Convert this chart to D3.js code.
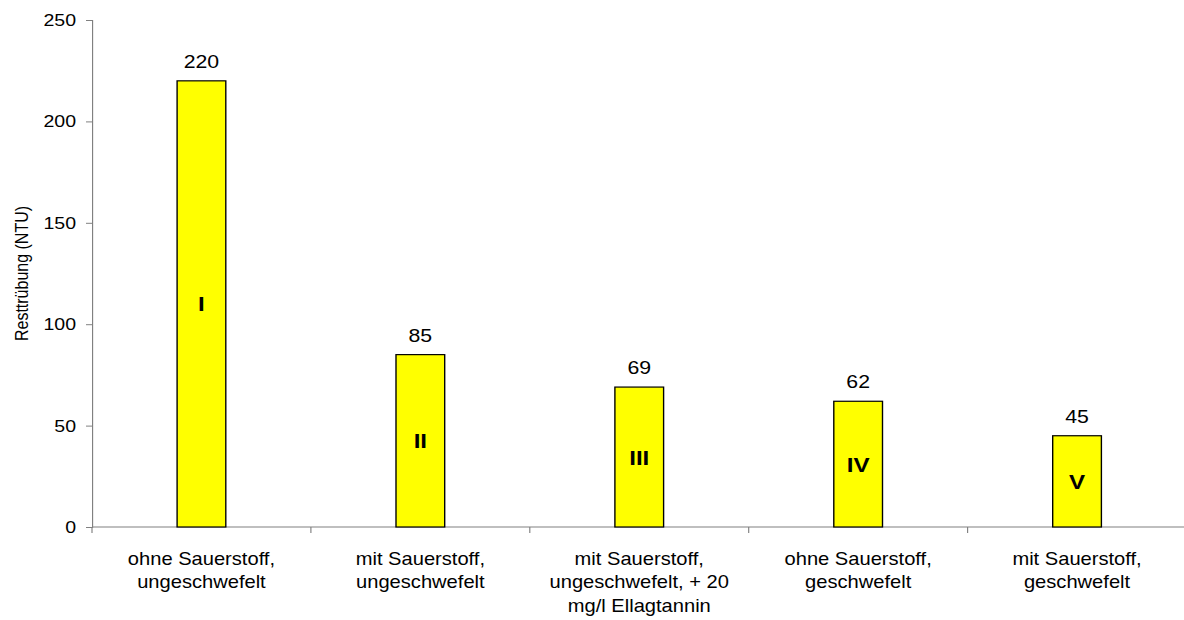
<!DOCTYPE html>
<html>
<head>
<meta charset="utf-8">
<script src="https://cdn.jsdelivr.net/npm/d3@7"></script>
<style>
  html, body { margin: 0; padding: 0; background: #fff; }
  svg { display: block; }
  text { font-family: "Liberation Sans", Arial, sans-serif; fill: #000; }
</style>
</head>
<body>
<svg id="chart" width="1184" height="620"></svg>
<script>
// Residual turbidity per treatment variant
const categories = [
  ["ohne Sauerstoff,", "ungeschwefelt"],
  ["mit Sauerstoff,", "ungeschwefelt"],
  ["mit Sauerstoff,", "ungeschwefelt, + 20", "mg/l Ellagtannin"],
  ["ohne Sauerstoff,", "geschwefelt"],
  ["mit Sauerstoff,", "geschwefelt"]
];
const values = [220, 85, 69, 62, 45];
const numerals = ["I", "II", "III", "IV", "V"];
const yTicks = [0, 50, 100, 150, 200, 250];
const yTitle = "Resttrübung (NTU)";

// The chart is laid out in a narrower frame and widened horizontally
const sx = 1.15;
const svg = d3.select("#chart");
const g = svg.append("g").attr("transform", `scale(${sx},1)`);

const plotLeft = 92 / sx, plotRight = 1186.5 / sx, plotTop = 20, plotBottom = 527;

const x = d3.scaleBand()
  .domain(d3.range(values.length))
  .range([plotLeft, plotRight])
  .padding(0);

const y = d3.scaleLinear().domain([0, 250]).range([plotBottom, plotTop]);

const barW = x.bandwidth() * 0.2225;
const axisColor = "#808080";

// y axis
const yAxis = d3.axisLeft(y).tickValues(yTicks).tickSize(6 / sx).tickPadding(10 / sx);
const ya = g.append("g").attr("transform", `translate(${plotLeft},0)`).call(yAxis);
ya.select(".domain").attr("stroke", axisColor).attr("stroke-width", 1);
ya.selectAll(".tick line").attr("stroke", axisColor);
ya.selectAll(".tick text")
  .attr("font-size", 17)
  .attr("font-family", "Liberation Sans, Arial, sans-serif")
  .attr("fill", "#000");

// x axis with boundary ticks between categories
const xa = g.append("g").attr("transform", `translate(0,${plotBottom})`);
xa.append("line")
  .attr("x1", plotLeft).attr("x2", plotRight)
  .attr("stroke", axisColor).attr("stroke-width", 1);
const bounds = d3.range(values.length + 1).map(i =>
  i < values.length ? x(i) : x(values.length - 1) + x.bandwidth());
xa.selectAll("line.bt").data(bounds).join("line")
  .attr("class", "bt")
  .attr("x1", d => d).attr("x2", d => d)
  .attr("y1", 0).attr("y2", 6)
  .attr("stroke", axisColor);

// bars
g.selectAll("rect.bar").data(values).join("rect")
  .attr("class", "bar")
  .attr("x", (d, i) => x(i) + x.bandwidth() / 2 - barW / 2)
  .attr("y", d => y(d))
  .attr("width", barW)
  .attr("height", d => y(0) - y(d))
  .attr("fill", "#ffff00")
  .attr("stroke", "#000")
  .attr("stroke-width", 1.2);

// value labels above bars
g.selectAll("text.val").data(values).join("text")
  .attr("class", "val")
  .attr("x", (d, i) => x(i) + x.bandwidth() / 2)
  .attr("y", d => y(d) - 13)
  .attr("text-anchor", "middle")
  .attr("font-size", 18.5)
  .text(d => d);

// roman numerals inside bars
g.selectAll("text.num").data(values).join("text")
  .attr("class", "num")
  .attr("x", (d, i) => x(i) + x.bandwidth() / 2)
  .attr("y", d => (y(d) + y(0)) / 2)
  .attr("dy", "0.36em")
  .attr("text-anchor", "middle")
  .attr("font-size", 21)
  .attr("font-weight", "bold")
  .text((d, i) => numerals[i]);

// category labels
const cat = g.selectAll("text.cat").data(categories).join("text")
  .attr("class", "cat")
  .attr("text-anchor", "middle")
  .attr("font-size", 17.5);
cat.selectAll("tspan").data((d, i) => d.map(line => ({ line, i }))).join("tspan")
  .attr("x", d => x(d.i) + x.bandwidth() / 2)
  .attr("y", (d, j) => 565 + j * 23.5)
  .text(d => d.line);

// y axis title
g.append("text")
  .attr("transform", `translate(${28 / sx},${(plotTop + plotBottom) / 2}) rotate(-90)`)
  .attr("text-anchor", "middle")
  .attr("font-size", 16)
  .text(yTitle);
</script>
</body>
</html>
